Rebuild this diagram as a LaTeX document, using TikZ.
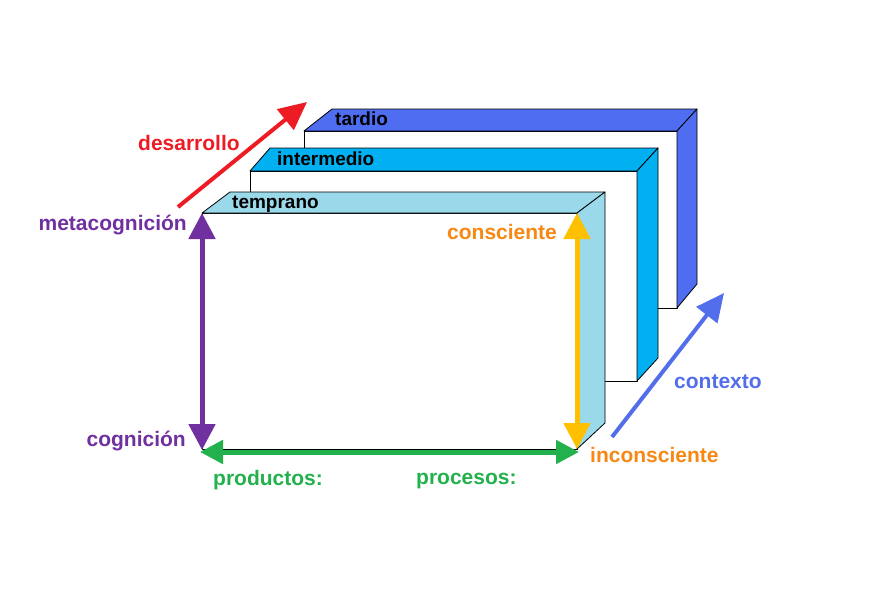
\documentclass[tikz,border=0pt]{standalone}
\usepackage{fontspec}
\setmainfont{Liberation Sans}
\usetikzlibrary{arrows.meta}
\definecolor{ctemprano}{RGB}{153,217,234}
\definecolor{cintermedio}{RGB}{0,176,240}
\definecolor{ctardio}{RGB}{79,109,240}
\definecolor{rojo}{RGB}{237,28,36}
\definecolor{morado}{RGB}{112,48,160}
\definecolor{amarillo}{RGB}{255,192,0}
\definecolor{naranja}{RGB}{247,136,20}
\definecolor{verde}{RGB}{34,177,76}
\definecolor{azul}{RGB}{82,110,235}
\begin{document}
\begin{tikzpicture}[x=1pt,y=-1pt,line join=round,
  caja/.style={draw=black,line width=0.8pt},
  etiq/.style={font=\fontsize{21}{24}\selectfont\bfseries,inner sep=0pt,anchor=base west},
  nivel/.style={font=\fontsize{19}{22}\selectfont\bfseries,inner sep=0pt,anchor=base west},
  doble/.style={line width=5pt,{Triangle[length=26pt,width=26pt]}-{Triangle[length=26pt,width=26pt]}},
  simple/.style={line width=4pt,-{Triangle[length=28pt,width=26pt]}}]
\useasboundingbox (0,0) rectangle (884,606);
%tardio
\filldraw[caja,fill=white] (304,131) rectangle (677,308);
\filldraw[caja,fill=ctardio] (304,131) -- (332,109) -- (697,109) -- (677,131) -- cycle;
\filldraw[caja,fill=ctardio] (677,131) -- (697,109) -- (697,284) -- (677,308) -- cycle;
\node[nivel] (tardio) at (335,125) {tardio};
%intermedio
\filldraw[caja,fill=white] (250,171) rectangle (637,381);
\filldraw[caja,fill=cintermedio] (250,171) -- (270,148) -- (658,148) -- (637,171) -- cycle;
\filldraw[caja,fill=cintermedio] (637,171) -- (658,148) -- (658,358) -- (637,381) -- cycle;
\node[nivel] (intermedio) at (277,165) {intermedio};
%temprano
\filldraw[caja,fill=white] (202,213) rectangle (577,449);
\filldraw[caja,fill=ctemprano] (202,213) -- (230,192) -- (605,192) -- (577,213) -- cycle;
\filldraw[caja,fill=ctemprano] (577,213) -- (605,192) -- (605,423) -- (577,449) -- cycle;
\node[nivel] (temprano) at (232,208) {temprano};
% ejes
\coordinate (meta) at (202,213);
\coordinate (cog) at (202,450);
\coordinate (cons) at (577,213);
\coordinate (incons) at (577,449);
\coordinate (prod) at (200,452);
\coordinate (proc) at (579,452);
\coordinate (des0) at (178,207);
\coordinate (des1) at (307,102);
\coordinate (ctx0) at (612,437);
\coordinate (ctx1) at (724,293);
\draw[doble,color=morado] (meta) -- (cog);
\draw[doble,color=amarillo] (cons) -- (incons);
\draw[doble,color=verde,{Triangle[length=23pt,width=23pt]}-{Triangle[length=23pt,width=23pt]}] (prod) -- (proc);
\draw[simple,color=rojo] (des0) -- (des1);
\draw[simple,color=azul] (ctx0) -- (ctx1);
\node[etiq,text=rojo] (desarrollo) at (138,150) {desarrollo};
\node[etiq,text=morado,anchor=base east] (metacognicion) at (187,230) {metacognición};
\node[etiq,text=morado,anchor=base east] (cognicion) at (186,446) {cognición};
\node[etiq,text=verde] (productos) at (213,485) {productos:};
\node[etiq,text=verde] (procesos) at (416,484) {procesos:};
\node[etiq,text=naranja] (consciente) at (447,239) {consciente};
\node[etiq,text=naranja] (inconsciente) at (590,462) {inconsciente};
\node[etiq,text=azul] (contexto) at (674,388) {contexto};
\end{tikzpicture}
\end{document}
